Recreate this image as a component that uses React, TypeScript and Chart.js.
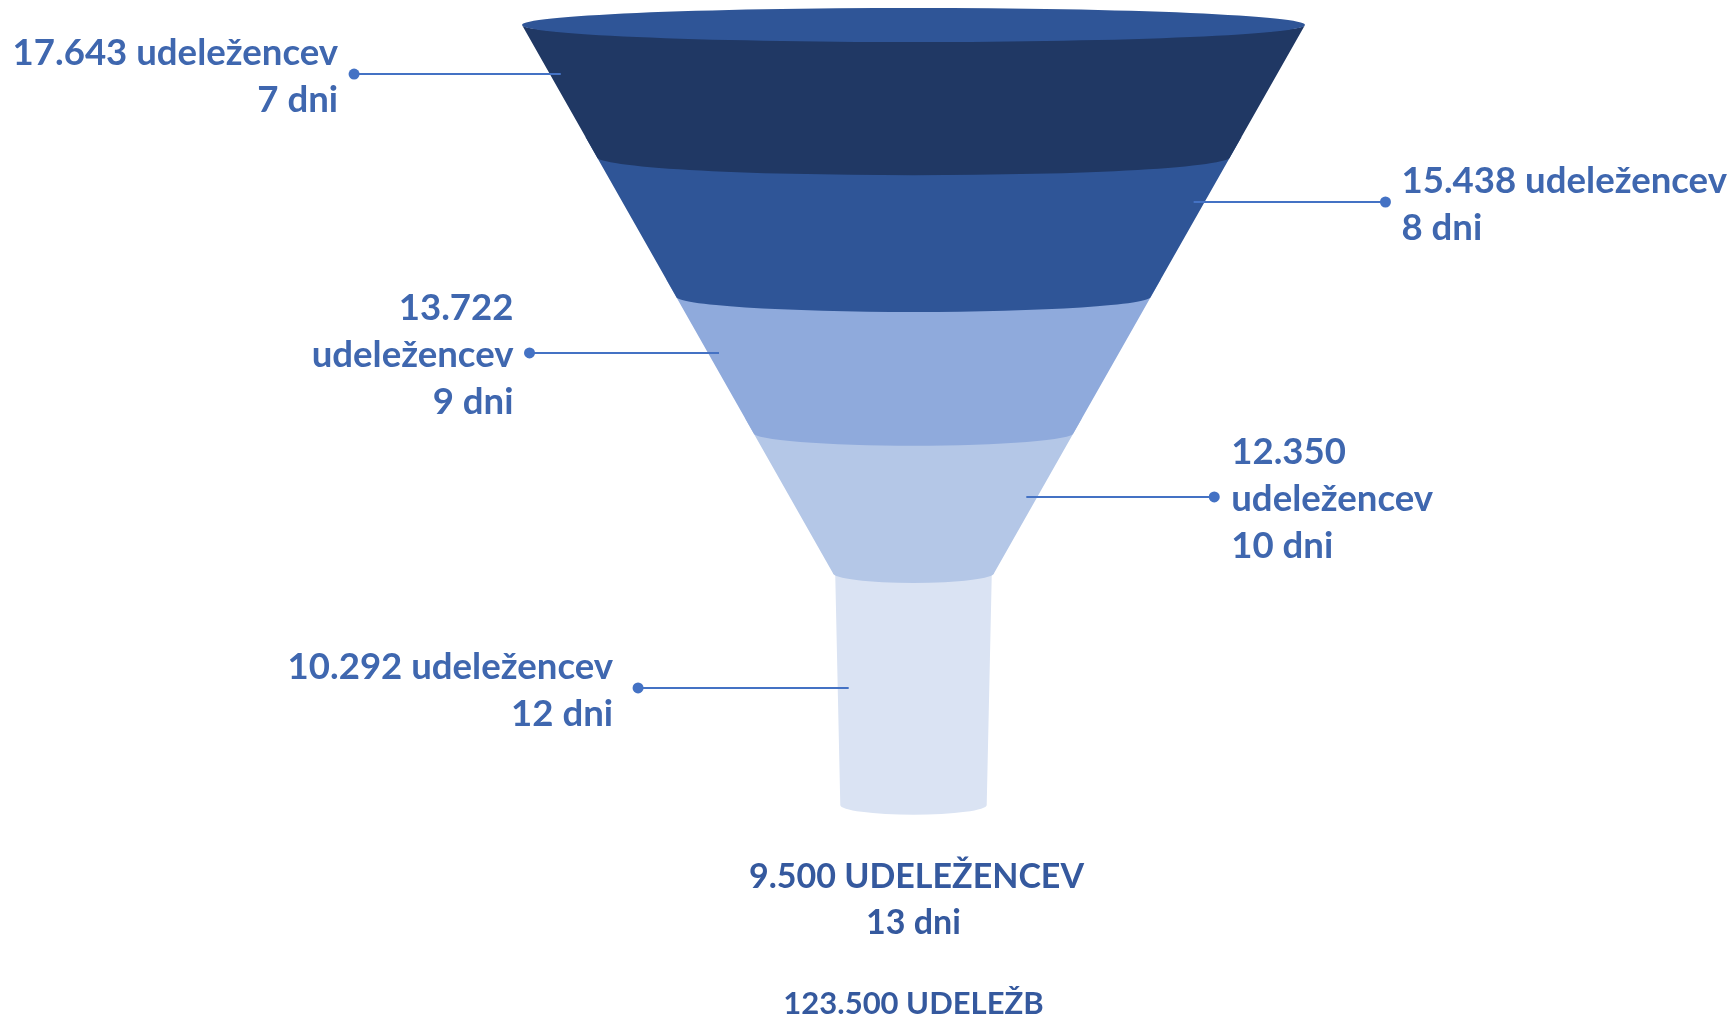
import { useEffect, useRef } from 'react';
import { Chart, registerables } from 'chart.js';

Chart.register(...registerables);

// ---------------- data ----------------
const stageDays = [7, 8, 9, 10, 12, 13];
const participants = [17643, 15438, 13722, 12350, 10292, 9500];
const totalAttendances = 123500;

// ---------------- styling / layout ----------------
const segmentColors = ['#203864', '#2F5597', '#8FAADC', '#B4C7E7', '#DAE3F3'];
const rimColor = '#2F5597';
const textColor = '#3F67AF';
const bottomTextColor = '#35599E';
const leaderColor = '#4472C4';

const labelSides = [-1, 1, -1, 1, -1];
const labelWrap = [false, false, true, true, false];
const labelGaps = [16, 16, 16, 17, 25];
const boundaryLevels = [0, 0.964, 1.982, 2.978, 4];
const leaderLevels = [0.358, 1.292, 2.394, 3.445, 4.839];
const leaderLengths = [0.5, 0.462, 0.456, 0.452, 0.51];

const TAPER = 0.1985;
const CONE_LEVELS = 4;
const NECK_TOP_W = 0.2;
const NECK_BOT_W = 0.187;
const NECK_BOTTOM = 5.693;
const LEADER_INSET = 0.028;
const LINE_H = 47;
const TEXT_DY = 2.5;
const FONT = 'bold 36.6px Lato';
const RIM_RY = 17;

const W = 1734;
const H = 1018;

const fmt = (n: number) => n.toString().replace(/\B(?=(\d{3})+(?!\d))/g, '.');

function halfWidth(level: number) {
  if (level <= CONE_LEVELS) return 1 - TAPER * level;
  const t = (level - CONE_LEVELS) / (NECK_BOTTOM - CONE_LEVELS);
  return NECK_TOP_W + (NECK_BOT_W - NECK_TOP_W) * t;
}

const arcRy = (rx: number) => 0.0345 * rx + 7.2;

function labelLines(i: number): string[] {
  const num = fmt(participants[i]);
  const d = `${stageDays[i]} dni`;
  return labelWrap[i] ? [num, 'udeležencev', d] : [`${num} udeležencev`, d];
}

const funnelPlugin = {
  id: 'funnel',
  beforeDatasetsDraw(chart: any) {
    const ctx = chart.ctx as CanvasRenderingContext2D;
    const xs = chart.scales.x;
    const ys = chart.scales.y;
    const cx = xs.getPixelForValue(0);
    const px = (w: number) => xs.getPixelForValue(w) - cx;

    const seg = (lt: number, lb: number, wt: number, wb: number, color: string, topRy: number | null) => {
      const yT = ys.getPixelForValue(lt);
      const yB = ys.getPixelForValue(lb);
      const rT = px(wt);
      const rB = px(wb);
      const ryB = arcRy(rB);
      ctx.save();
      ctx.fillStyle = color;
      ctx.beginPath();
      if (topRy === null) {
        // extend upward, hidden beneath the segment above
        const ryT = arcRy(rT);
        const slope = (rT - rB) / (yB - yT);
        const up = ryT + 2;
        ctx.moveTo(cx - rT - slope * up, yT - up);
        ctx.lineTo(cx - rB, yB);
        ctx.ellipse(cx, yB, rB, ryB, 0, Math.PI, 0, true);
        ctx.lineTo(cx + rT + slope * up, yT - up);
        ctx.closePath();
      } else {
        ctx.moveTo(cx - rT, yT);
        ctx.lineTo(cx - rB, yB);
        ctx.ellipse(cx, yB, rB, ryB, 0, Math.PI, 0, true);
        ctx.lineTo(cx + rT, yT);
        ctx.ellipse(cx, yT, rT, topRy, 0, 0, Math.PI, false);
        ctx.closePath();
      }
      ctx.fill();
      ctx.restore();
    };

    // neck (last stage drawn as a cylinder)
    seg(CONE_LEVELS, NECK_BOTTOM, NECK_TOP_W, NECK_BOT_W, segmentColors[4], null);
    for (let i = CONE_LEVELS - 1; i >= 0; i--) {
      const lt = boundaryLevels[i];
      const lb = boundaryLevels[i + 1];
      seg(lt, lb, halfWidth(lt), halfWidth(lb), segmentColors[i], i === 0 ? RIM_RY - 2 : null);
    }
    // rim
    const r0 = px(halfWidth(0));
    ctx.save();
    ctx.fillStyle = rimColor;
    ctx.beginPath();
    ctx.ellipse(cx, ys.getPixelForValue(0), r0, RIM_RY, 0, 0, Math.PI * 2);
    ctx.fill();
    ctx.restore();
  },
  afterDatasetsDraw(chart: any) {
    const ctx = chart.ctx as CanvasRenderingContext2D;
    const xs = chart.scales.x;
    const ys = chart.scales.y;
    ctx.save();
    ctx.font = FONT;
    ctx.fillStyle = textColor;
    ctx.textBaseline = 'middle';
    for (let i = 0; i < leaderLevels.length; i++) {
      const lvl = leaderLevels[i];
      const side = labelSides[i];
      const dotX = xs.getPixelForValue(side * (halfWidth(lvl) + leaderLengths[i]));
      const dotY = ys.getPixelForValue(lvl);
      const lines = labelLines(i);
      ctx.textAlign = side < 0 ? 'right' : 'left';
      const tx = dotX + side * labelGaps[i];
      lines.forEach((t, k) => {
        ctx.fillText(t, tx, dotY + TEXT_DY + (k - (lines.length - 1) / 2) * LINE_H);
      });
    }
    // bottom (output) labels
    const cx = xs.getPixelForValue(0);
    ctx.textAlign = 'center';
    ctx.fillStyle = bottomTextColor;
    ctx.font = 'bold 34px Lato';
    ctx.fillText(`${fmt(participants[5])} UDELEŽENCEV`, cx + 3, ys.getPixelForValue(6.204) + TEXT_DY);
    ctx.fillText(`${stageDays[5]} dni`, cx, ys.getPixelForValue(6.54) + TEXT_DY);
    ctx.font = 'bold 31px Lato';
    ctx.fillText(`${fmt(totalAttendances)} UDELEŽB`, cx, ys.getPixelForValue(7.131) + TEXT_DY);
    ctx.restore();
  },
};

const LEVEL_PX = 137;
const UNIT_PX = 391.5;
const CENTER_X = 913.5;
const RIM_Y = 25;

export default function App() {
  const ref = useRef<HTMLCanvasElement>(null);
  useEffect(() => {
    const datasets = leaderLevels.map((lvl, i) => {
      const side = labelSides[i];
      return {
        type: 'line' as const,
        label: `${stageDays[i]} dni`,
        data: [
          { x: side * (halfWidth(lvl) + leaderLengths[i]), y: lvl },
          { x: side * (halfWidth(lvl) - LEADER_INSET), y: lvl },
        ],
        showLine: true,
        borderColor: leaderColor,
        borderWidth: 2,
        pointRadius: [5.5, 0],
        pointBackgroundColor: leaderColor,
        pointBorderWidth: 0,
        clip: false as any,
      };
    });
    const chart = new Chart(ref.current!, {
      type: 'scatter',
      data: { datasets: datasets as any },
      options: {
        responsive: false,
        animation: false,
        layout: { padding: 0, autoPadding: false },
        plugins: { legend: { display: false }, tooltip: { enabled: false } },
        scales: {
          x: {
            type: 'linear',
            display: false,
            min: -CENTER_X / UNIT_PX,
            max: (W - CENTER_X) / UNIT_PX,
          },
          y: {
            type: 'linear',
            display: false,
            reverse: true,
            min: -RIM_Y / LEVEL_PX,
            max: (H - RIM_Y) / LEVEL_PX,
          },
        },
      },
      plugins: [funnelPlugin],
    });
    return () => chart.destroy();
  }, []);
  return (
    <div style={{ position: 'fixed', left: 0, top: 0, width: W, height: H, background: '#fff' }}>
      <canvas ref={ref} width={W} height={H} style={{ width: W, height: H, display: 'block' }} />
    </div>
  );
}
